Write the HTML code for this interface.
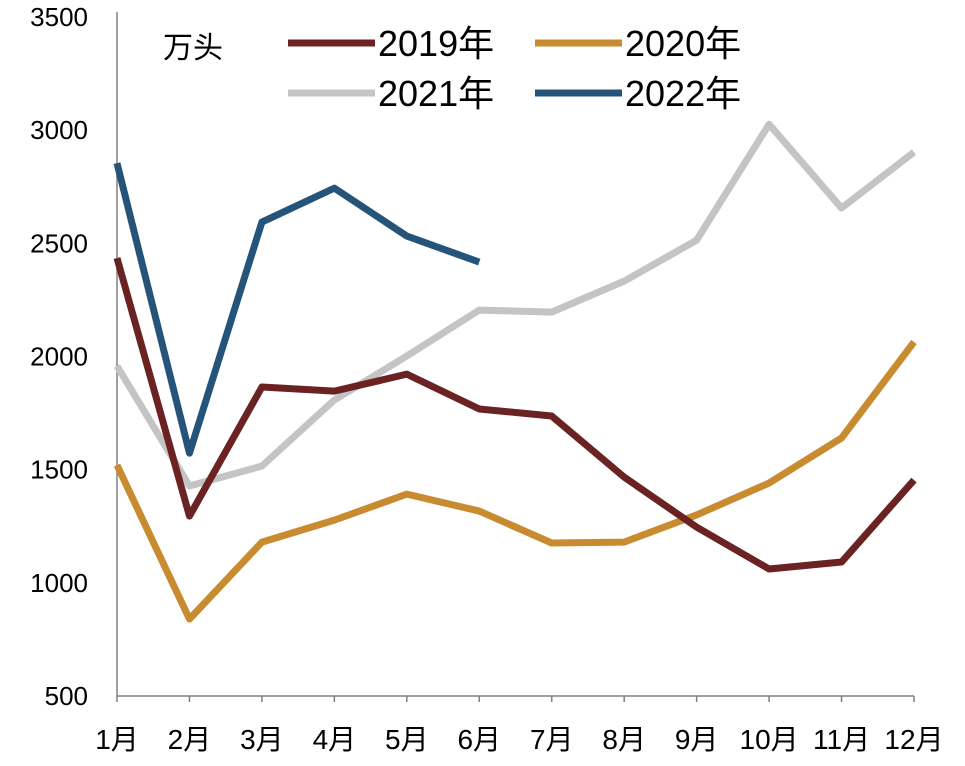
<!DOCTYPE html>
<html><head><meta charset="utf-8"><style>
html,body{margin:0;padding:0;background:#fff;}
svg text{font-family:"Liberation Sans","Noto Sans CJK SC",sans-serif;fill:#000;}
</style></head><body>
<svg id="chart" width="965" height="761">
<g id="axes"></g><g id="series"></g><g id="legend"></g>
</svg>
<script>
const categories=["1月","2月","3月","4月","5月","6月","7月","8月","9月","10月","11月","12月"];
const yTicks=[500,1000,1500,2000,2500,3000,3500];
const s2019=[2435,1295,1865,1847,1922,1768,1737,1467,1246,1061,1092,1454];
const s2020=[1520,840,1180,1277,1392,1317,1176,1180,1300,1441,1640,2064];
const s2021=[1958,1428,1516,1808,2002,2205,2196,2333,2514,3026,2656,2903];
const s2022=[2854,1573,2594,2744,2532,2417];
const seriesNames=["2019年","2020年","2021年","2022年"];
const NS="http://www.w3.org/2000/svg";
const x0=117,x1=914,yTop=17,yBot=696;
function xs(i){return x0+i*(x1-x0)/(categories.length-1);}
function ys(v){return yBot-(v-500)/(3500-500)*(yBot-yTop);}
function mk(t,a,p){const e=document.createElementNS(NS,t);for(const k in a)e.setAttribute(k,a[k]);p.appendChild(e);return e;}
const ax=document.getElementById('axes');
let l=mk('line',{x1:x0,y1:yTop-5,x2:x0,y2:yBot,stroke:'#808080','stroke-width':1.5},ax);


l=mk('line',{x1:x0,y1:yBot,x2:x1,y2:yBot,stroke:'#808080','stroke-width':1.5},ax);


yTicks.forEach(v=>{const t=mk('text',{x:x0-29,y:ys(v)+9,'text-anchor':'end','font-size':26},ax);t.textContent=v;

});
categories.forEach((c,i)=>{const tk=mk('line',{x1:xs(i),y1:yBot,x2:xs(i),y2:yBot+6,stroke:'#808080','stroke-width':1.5},ax);


const t=mk('text',{x:xs(i),y:749,'text-anchor':'middle','font-size':28},ax);t.textContent=c;

});
const colors=["#6b2222","#c98b30","#c4c4c4","#25547a"];
const data=[s2019,s2020,s2021,s2022];
const sg=document.getElementById('series');
[2,1,0,3].forEach(k=>{const d=data[k];const pts=d.map((v,i)=>xs(i)+','+ys(v)).join(' ');
const p=mk('polyline',{points:pts,fill:'none',stroke:colors[k],'stroke-width':7,'stroke-linejoin':'round'},sg);

});
const lg=document.getElementById('legend');
let u=mk('text',{x:163,y:58,'font-size':30},lg);u.textContent='万头';


const pos=[[288,43],[535,43],[288,93],[535,93]];
seriesNames.forEach((n,k)=>{const [x,y]=pos[k];
const ln=mk('line',{x1:x,y1:y,x2:x+87,y2:y,stroke:colors[k],'stroke-width':7},lg);


const t=mk('text',{x:x+90,y:y+13,'font-size':36},lg);t.textContent=n;

});
</script>
</body></html>
